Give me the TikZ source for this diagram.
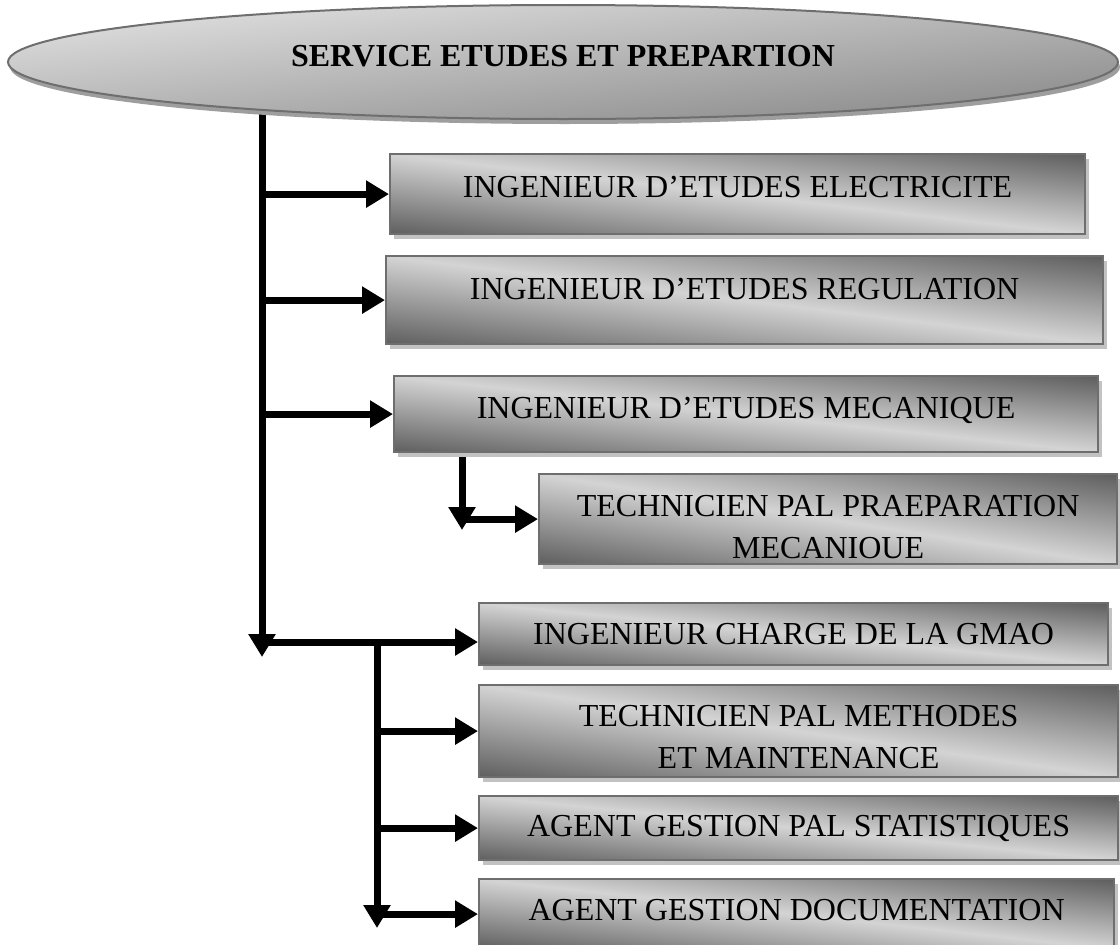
\documentclass[tikz,border=0pt]{standalone}
\usepackage{fontspec}
\setmainfont{Liberation Serif}
\usetikzlibrary{arrows.meta,shapes.geometric,shadows,backgrounds}

\definecolor{boxedge}{gray}{0.43}
\definecolor{boxshadow}{gray}{0.76}
\definecolor{ovalshadow}{gray}{0.62}

% diagonal fill of the post boxes: dark at lower-left and upper-right corners,
% light along the other diagonal (stretched with the box)
\pgfdeclarefunctionalshading{postshade}{\pgfpoint{-50bp}{-50bp}}{\pgfpoint{50bp}{50bp}}{}{
  add abs 50 div 0.46 mul 0.83 exch sub dup dup
}
% fill of the head oval: light upper-left, darker lower-right
\pgfdeclarefunctionalshading{ovalshade}{\pgfpoint{-50bp}{-50bp}}{\pgfpoint{50bp}{50bp}}{}{
  sub 50 div 0.19 mul 0.71 exch sub dup dup
}

\tikzset{
  post/.style={draw=boxedge, line width=2.2pt, shade, shading=postshade,
    drop shadow={shadow xshift=4pt, shadow yshift=-5pt, fill=boxshadow, opacity=1},
    font=\fontsize{32}{42}\selectfont, align=center,
    inner sep=0pt, anchor=north west},
  oneline/.style={text height=22pt, text depth=#1},
  oneline/.default=0pt,
  headoval/.style={ellipse, draw=boxedge, line width=2pt, shade, shading=ovalshade,
    drop shadow={shadow xshift=2pt, shadow yshift=-5pt, fill=ovalshadow, opacity=1},
    font=\fontsize{32}{38}\selectfont\bfseries, inner sep=0pt},
  link/.style={line width=7pt, -{Triangle[length=23pt,width=26pt]}},
}

\begin{document}
\begin{tikzpicture}[x=1pt, y=-1pt]
\useasboundingbox (0,0) rectangle (1120,945);

% head of the service
\node[headoval, minimum width=1110pt, minimum height=114pt, text height=22pt, text depth=14pt]
  (svc) at (563,62) {SERVICE ETUDES ET PREPARTION};

% first-level posts
\node[post, oneline=16pt, minimum width=695pt, minimum height=80pt] (elec) at (389,153)
  {INGENIEUR D’ETUDES ELECTRICITE};
\node[post, oneline=24pt, minimum width=717pt, minimum height=88pt] (regu) at (385,255)
  {INGENIEUR D’ETUDES REGULATION};
\node[post, oneline=14pt, minimum width=704pt, minimum height=76pt] (meca) at (393,375)
  {INGENIEUR D’ETUDES MECANIQUE};
\node[post, minimum width=578pt, minimum height=90pt] (prep) at (538,473)
  {\rule{0pt}{37pt}TECHNICIEN PAL PRAEPARATION\\MECANIOUE};
\node[post, oneline=2pt, minimum width=629pt, minimum height=62pt] (gmao) at (478,602)
  {INGENIEUR CHARGE DE LA GMAO};
\node[post, minimum width=639pt, minimum height=92pt] (meth) at (478,684)
  {\rule{0pt}{33pt}TECHNICIEN PAL METHODES\\ET MAINTENANCE};
\node[post, oneline=6pt, minimum width=639pt, minimum height=64pt] (stat) at (478,795)
  {AGENT GESTION PAL STATISTIQUES};
\node[post, oneline=10pt, minimum width=635pt, minimum height=70pt] (doc) at (478,878)
  {AGENT GESTION DOCUMENTATION};

% junction points of the connectors
\coordinate (t0) at (262,110);
\coordinate (t1) at (262,657);
\coordinate (j)  at (262,642);
\coordinate (k)  at (377,642);
\coordinate (k1) at (377,928);
\coordinate (p0) at (462,451);
\coordinate (p1) at (462,530);

\begin{pgfonlayer}{background}
  % main trunk and its branches
  \draw[link] (t0) -- (t1);
  \draw[link] (t0 |- elec.west) -- (elec.west);
  \draw[link] (t0 |- regu.west) -- (regu.west);
  \draw[link] (t0 |- meca.west) -- (meca.west);
  \draw[link] (j) -- (j -| gmao.west);
  % secondary trunk
  \draw[link] (k) -- (k1);
  \draw[link] (k |- meth.west) -- (meth.west);
  \draw[link] (k |- stat.west) -- (stat.west);
  \draw[link] (k |- doc.west) -- (doc.west);
  % mechanical preparation branch
  \draw[link] (p0) -- (p1);
  \draw[link] (p1 |- prep.west) -- (prep.west);
\end{pgfonlayer}
\end{tikzpicture}
\end{document}
